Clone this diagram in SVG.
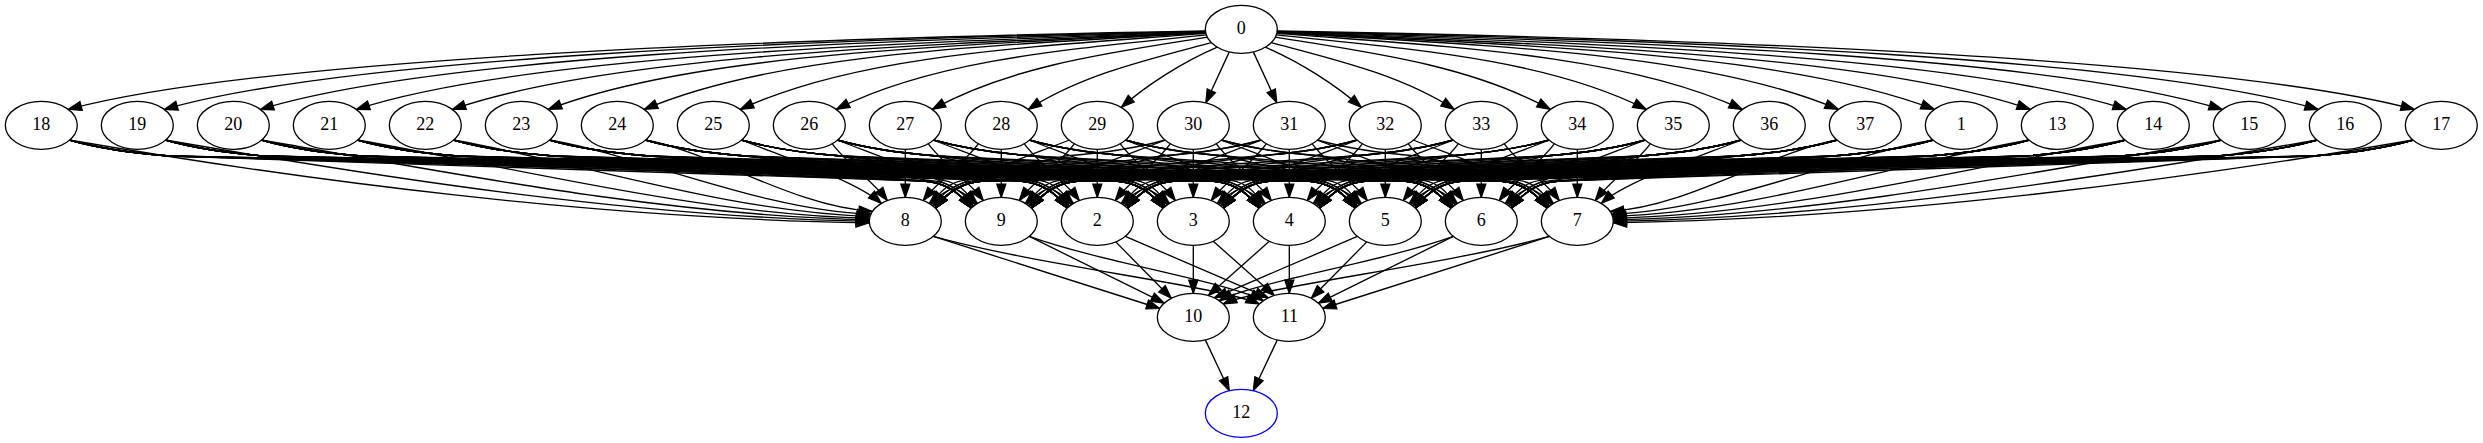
<svg xmlns="http://www.w3.org/2000/svg" width="2483" height="443" viewBox="0 0 2483 443">
<defs>
<marker id="ah" markerUnits="userSpaceOnUse" viewBox="-1 -6 16 12" refX="13.3" refY="0" markerWidth="16" markerHeight="12" orient="auto" overflow="visible">
<path d="M0,-4.6 L13.3,0 L0,4.6 Z" fill="#000" stroke="#000" stroke-width="1.2"/>
</marker>
</defs>
<style>
.e path{fill:none;stroke:#000;stroke-width:1.33;marker-end:url(#ah)}
.n ellipse{fill:#fff;stroke:#000;stroke-width:1.33}
.n text{font-family:"Liberation Serif","Times New Roman",serif;font-size:18px;text-anchor:middle;fill:#000}
</style>
<rect width="2483" height="443" fill="#fff"/>
<g id="edges" class="e">
<g id="edges-half">
<path d="M1205.5,31 C750.7,38.9 255,59.4 68.3,109.4"/>
<path d="M1205.5,31.3 C789.1,40 344.4,57.8 164.3,109.4"/>
<path d="M1205.5,31.6 C827.5,41.5 432.1,56.9 260.3,109.4"/>
<path d="M1205.5,31.9 C866,43.8 517.8,56.9 356.3,109.4"/>
<path d="M1205.5,32.2 C912.1,45 609,55.4 452.3,109.4"/>
<path d="M1205.5,32.5 C949.5,45.9 695.5,52.9 548.3,109.4"/>
<path d="M1205.5,32.8 C992.6,45.8 778.6,52.4 644.3,109.4"/>
<path d="M1205.5,33.3 C1033.9,46.8 858.4,54.3 740.3,109.4"/>
<path d="M1206.3,34.9 C1073.8,48.8 935.2,59 836.3,109.4"/>
<path d="M1207.3,37.2 C1112.2,52.3 1011.7,65.4 932.3,109.4"/>
<path d="M1211.3,42.6 C1149.4,59.2 1082.1,74.5 1028.3,109.4"/>
<path d="M1217.3,47.2 C1182.3,62.2 1146.3,85.4 1121.3,107.4"/>
<path d="M1229.3,51.9 L1205.8,102.8"/>

<path d="M69.3,140 C301.3,180 597.3,218.8 869.3,222.8"/>
<path d="M69.3,140 c25,7 60,13 100,16 l754,25 c20,1 36,11 48,27"/>
<path d="M69.3,140 c25,7 60,13 100,16 l850,25 c20,1 36,11 48,27"/>
<path d="M69.3,140 c25,7 60,13 100,16 l946,25 c20,1 36,11 48,27"/>
<path d="M69.3,140 c25,7 60,13 100,16 l1042,25 c20,1 36,11 48,27"/>
<path d="M69.3,140 c25,7 60,13 100,16 l1138,25 c20,1 36,11 48,27"/>
<path d="M69.3,140 c25,7 60,13 100,16 l1234,25 c20,1 36,11 48,27"/>
<path d="M69.3,140 c25,7 60,13 100,16 l1330,25 c20,1 36,11 48,27"/>

<path d="M165.3,140 C369.5,175.2 629.9,217.3 869.3,221.3"/>
<path d="M165.3,140 c25,7 60,13 100,16 l658,25 c20,1 36,11 48,27"/>
<path d="M165.3,140 c25,7 60,13 100,16 l754,25 c20,1 36,11 48,27"/>
<path d="M165.3,140 c25,7 60,13 100,16 l850,25 c20,1 36,11 48,27"/>
<path d="M165.3,140 c25,7 60,13 100,16 l946,25 c20,1 36,11 48,27"/>
<path d="M165.3,140 c25,7 60,13 100,16 l1042,25 c20,1 36,11 48,27"/>
<path d="M165.3,140 c25,7 60,13 100,16 l1138,25 c20,1 36,11 48,27"/>
<path d="M165.3,140 c25,7 60,13 100,16 l1234,25 c20,1 36,11 48,27"/>

<path d="M261.3,140 C437.6,170.4 662.7,215.8 869.4,219.8"/>
<path d="M261.3,140 c25,7 60,13 100,16 l562,25 c20,1 36,11 48,27"/>
<path d="M261.3,140 c25,7 60,13 100,16 l658,25 c20,1 36,11 48,27"/>
<path d="M261.3,140 c25,7 60,13 100,16 l754,25 c20,1 36,11 48,27"/>
<path d="M261.3,140 c25,7 60,13 100,16 l850,25 c20,1 36,11 48,27"/>
<path d="M261.3,140 c25,7 60,13 100,16 l946,25 c20,1 36,11 48,27"/>
<path d="M261.3,140 c25,7 60,13 100,16 l1042,25 c20,1 36,11 48,27"/>
<path d="M261.3,140 c25,7 60,13 100,16 l1138,25 c20,1 36,11 48,27"/>

<path d="M357.3,140 C505.8,165.6 695.5,214.3 869.6,218.3"/>
<path d="M357.3,140 c25,7 60,13 100,16 l466,25 c20,1 36,11 48,27"/>
<path d="M357.3,140 c25,7 60,13 100,16 l562,25 c20,1 36,11 48,27"/>
<path d="M357.3,140 c25,7 60,13 100,16 l658,25 c20,1 36,11 48,27"/>
<path d="M357.3,140 c25,7 60,13 100,16 l754,25 c20,1 36,11 48,27"/>
<path d="M357.3,140 c25,7 60,13 100,16 l850,25 c20,1 36,11 48,27"/>
<path d="M357.3,140 c25,7 60,13 100,16 l946,25 c20,1 36,11 48,27"/>
<path d="M357.3,140 c25,7 60,13 100,16 l1042,25 c20,1 36,11 48,27"/>

<path d="M453.3,140 C574.2,160.9 728.2,212.3 870,216.3"/>
<path d="M453.3,140 c25,7 60,13 100,16 l370,25 c20,1 36,11 48,27"/>
<path d="M453.3,140 c25,7 60,13 100,16 l466,25 c20,1 36,11 48,27"/>
<path d="M453.3,140 c25,7 60,13 100,16 l562,25 c20,1 36,11 48,27"/>
<path d="M453.3,140 c25,7 60,13 100,16 l658,25 c20,1 36,11 48,27"/>
<path d="M453.3,140 c25,7 60,13 100,16 l754,25 c20,1 36,11 48,27"/>
<path d="M453.3,140 c25,7 60,13 100,16 l850,25 c20,1 36,11 48,27"/>
<path d="M453.3,140 c25,7 60,13 100,16 l946,25 c20,1 36,11 48,27"/>

<path d="M549.3,140 C642.5,156.1 761.5,210.3 870.8,214.3"/>
<path d="M549.3,140 c25,7 60,13 100,16 l274,25 c20,1 36,11 48,27"/>
<path d="M549.3,140 c25,7 60,13 100,16 l370,25 c20,1 36,11 48,27"/>
<path d="M549.3,140 c25,7 60,13 100,16 l466,25 c20,1 36,11 48,27"/>
<path d="M549.3,140 c25,7 60,13 100,16 l562,25 c20,1 36,11 48,27"/>
<path d="M549.3,140 c25,7 60,13 100,16 l658,25 c20,1 36,11 48,27"/>
<path d="M549.3,140 c25,7 60,13 100,16 l754,25 c20,1 36,11 48,27"/>
<path d="M549.3,140 c25,7 60,13 100,16 l850,25 c20,1 36,11 48,27"/>

<path d="M645.3,140 C711.1,151.4 795.1,207.3 872.3,211.3"/>
<path d="M645.3,140 c25,7 60,13 100,16 l190,25.2 c15,2 28,11 38,25"/>
<path d="M645.3,140 c25,7 60,13 100,16 l274,25 c20,1 36,11 48,27"/>
<path d="M645.3,140 c25,7 60,13 100,16 l370,25 c20,1 36,11 48,27"/>
<path d="M645.3,140 c25,7 60,13 100,16 l466,25 c20,1 36,11 48,27"/>
<path d="M645.3,140 c25,7 60,13 100,16 l562,25 c20,1 36,11 48,27"/>
<path d="M645.3,140 c25,7 60,13 100,16 l658,25 c20,1 36,11 48,27"/>
<path d="M645.3,140 c25,7 60,13 100,16 l754,25 c20,1 36,11 48,27"/>

<path d="M741.3,140 c40,16 115,41 140,63.4"/>
<path d="M741.3,140 c25,7 60,13 100,16 l103,24.7 c12,2 23,11 31,24"/>
<path d="M741.3,140 c25,7 60,13 100,16 l190,25.2 c15,2 28,11 38,25"/>
<path d="M741.3,140 c25,7 60,13 100,16 l274,25 c20,1 36,11 48,27"/>
<path d="M741.3,140 c25,7 60,13 100,16 l370,25 c20,1 36,11 48,27"/>
<path d="M741.3,140 c25,7 60,13 100,16 l466,25 c20,1 36,11 48,27"/>
<path d="M741.3,140 c25,7 60,13 100,16 l562,25 c20,1 36,11 48,27"/>
<path d="M741.3,140 c25,7 60,13 100,16 l658,25 c20,1 36,11 48,27"/>

<path d="M832.3,143.8 c15,20 40,37 55,56.7"/>
<path d="M837.3,140 c40,16 115,41 140,63.4"/>
<path d="M837.3,140 c25,7 60,13 100,16 l103,24.7 c12,2 23,11 31,24"/>
<path d="M837.3,140 c25,7 60,13 100,16 l190,25.2 c15,2 28,11 38,25"/>
<path d="M837.3,140 c25,7 60,13 100,16 l274,25 c20,1 36,11 48,27"/>
<path d="M837.3,140 c25,7 60,13 100,16 l370,25 c20,1 36,11 48,27"/>
<path d="M837.3,140 c25,7 60,13 100,16 l466,25 c20,1 36,11 48,27"/>
<path d="M837.3,140 c25,7 60,13 100,16 l562,25 c20,1 36,11 48,27"/>

<path d="M905.3,149.3 V197.3"/>
<path d="M928.3,143.8 c15,20 40,37 55,56.7"/>
<path d="M933.3,140 c40,16 115,41 140,63.4"/>
<path d="M933.3,140 c25,7 60,13 100,16 l103,24.7 c12,2 23,11 31,24"/>
<path d="M933.3,140 c25,7 60,13 100,16 l190,25.2 c15,2 28,11 38,25"/>
<path d="M933.3,140 c25,7 60,13 100,16 l274,25 c20,1 36,11 48,27"/>
<path d="M933.3,140 c25,7 60,13 100,16 l370,25 c20,1 36,11 48,27"/>
<path d="M933.3,140 c25,7 60,13 100,16 l466,25 c20,1 36,11 48,27"/>

<path d="M978.3,143.8 c-15,20 -40,37 -55,56.7"/>
<path d="M1001.3,149.3 V197.3"/>
<path d="M1024.3,143.8 c15,20 40,37 55,56.7"/>
<path d="M1029.3,140 c40,16 115,41 140,63.4"/>
<path d="M1029.3,140 c25,7 60,13 100,16 l103,24.7 c12,2 23,11 31,24"/>
<path d="M1029.3,140 c25,7 60,13 100,16 l190,25.2 c15,2 28,11 38,25"/>
<path d="M1029.3,140 c25,7 60,13 100,16 l274,25 c20,1 36,11 48,27"/>
<path d="M1029.3,140 c25,7 60,13 100,16 l370,25 c20,1 36,11 48,27"/>

<path d="M1069.3,140 c-40,16 -115,41 -140,63.4"/>
<path d="M1074.3,143.8 c-15,20 -40,37 -55,56.7"/>
<path d="M1097.3,149.3 V197.3"/>
<path d="M1120.3,143.8 c15,20 40,37 55,56.7"/>
<path d="M1125.3,140 c40,16 115,41 140,63.4"/>
<path d="M1125.3,140 c25,7 60,13 100,16 l103,24.7 c12,2 23,11 31,24"/>
<path d="M1125.3,140 c25,7 60,13 100,16 l190,25.2 c15,2 28,11 38,25"/>
<path d="M1125.3,140 c25,7 60,13 100,16 l274,25 c20,1 36,11 48,27"/>

<path d="M1165.3,140 c-25,7 -60,13 -100,16 l-103,24.7 c-12,2 -23,11 -31,24"/>
<path d="M1165.3,140 c-40,16 -115,41 -140,63.4"/>
<path d="M1170.3,143.8 c-15,20 -40,37 -55,56.7"/>
<path d="M1193.3,149.3 V197.3"/>
<path d="M1216.3,143.8 c15,20 40,37 55,56.7"/>
<path d="M1221.3,140 c40,16 115,41 140,63.4"/>
<path d="M1221.3,140 c25,7 60,13 100,16 l103,24.7 c12,2 23,11 31,24"/>
<path d="M1221.3,140 c25,7 60,13 100,16 l190,25.2 c15,2 28,11 38,25"/>

<path d="M933.3,236.4 L1159.8,308.5"/>
<path d="M933.3,236.4 C1040,266 1220,286 1259.3,304"/>
<path d="M1029.3,236.4 L1164.3,303.1"/>
<path d="M1029.3,236.4 C1100,262 1232,283 1263.3,300.7"/>
<path d="M1115.8,241.9 L1171.3,298.3"/>
<path d="M1125.3,236.4 L1268.3,297.8"/>
<path d="M1193.3,245.3 V293.3"/>
<path d="M1213.3,241.3 L1274.3,295.5"/>
<path d="M1205.3,339.9 L1229.3,390.7"/>
</g>
<use href="#edges-half" transform="matrix(-1 0 0 1 2482.6 0)"/>
</g>
<g id="nodes">
<g id="node-0" class="n"><ellipse cx="1241.3" cy="29.3" rx="36" ry="24"/><text x="1241.3" y="34.3">0</text></g>
<g id="node-18" class="n"><ellipse cx="41.3" cy="125.3" rx="36" ry="24"/><text x="41.3" y="130.3">18</text></g>
<g id="node-19" class="n"><ellipse cx="137.3" cy="125.3" rx="36" ry="24"/><text x="137.3" y="130.3">19</text></g>
<g id="node-20" class="n"><ellipse cx="233.3" cy="125.3" rx="36" ry="24"/><text x="233.3" y="130.3">20</text></g>
<g id="node-21" class="n"><ellipse cx="329.3" cy="125.3" rx="36" ry="24"/><text x="329.3" y="130.3">21</text></g>
<g id="node-22" class="n"><ellipse cx="425.3" cy="125.3" rx="36" ry="24"/><text x="425.3" y="130.3">22</text></g>
<g id="node-23" class="n"><ellipse cx="521.3" cy="125.3" rx="36" ry="24"/><text x="521.3" y="130.3">23</text></g>
<g id="node-24" class="n"><ellipse cx="617.3" cy="125.3" rx="36" ry="24"/><text x="617.3" y="130.3">24</text></g>
<g id="node-25" class="n"><ellipse cx="713.3" cy="125.3" rx="36" ry="24"/><text x="713.3" y="130.3">25</text></g>
<g id="node-26" class="n"><ellipse cx="809.3" cy="125.3" rx="36" ry="24"/><text x="809.3" y="130.3">26</text></g>
<g id="node-27" class="n"><ellipse cx="905.3" cy="125.3" rx="36" ry="24"/><text x="905.3" y="130.3">27</text></g>
<g id="node-28" class="n"><ellipse cx="1001.3" cy="125.3" rx="36" ry="24"/><text x="1001.3" y="130.3">28</text></g>
<g id="node-29" class="n"><ellipse cx="1097.3" cy="125.3" rx="36" ry="24"/><text x="1097.3" y="130.3">29</text></g>
<g id="node-30" class="n"><ellipse cx="1193.3" cy="125.3" rx="36" ry="24"/><text x="1193.3" y="130.3">30</text></g>
<g id="node-31" class="n"><ellipse cx="1289.3" cy="125.3" rx="36" ry="24"/><text x="1289.3" y="130.3">31</text></g>
<g id="node-32" class="n"><ellipse cx="1385.3" cy="125.3" rx="36" ry="24"/><text x="1385.3" y="130.3">32</text></g>
<g id="node-33" class="n"><ellipse cx="1481.3" cy="125.3" rx="36" ry="24"/><text x="1481.3" y="130.3">33</text></g>
<g id="node-34" class="n"><ellipse cx="1577.3" cy="125.3" rx="36" ry="24"/><text x="1577.3" y="130.3">34</text></g>
<g id="node-35" class="n"><ellipse cx="1673.3" cy="125.3" rx="36" ry="24"/><text x="1673.3" y="130.3">35</text></g>
<g id="node-36" class="n"><ellipse cx="1769.3" cy="125.3" rx="36" ry="24"/><text x="1769.3" y="130.3">36</text></g>
<g id="node-37" class="n"><ellipse cx="1865.3" cy="125.3" rx="36" ry="24"/><text x="1865.3" y="130.3">37</text></g>
<g id="node-1" class="n"><ellipse cx="1961.3" cy="125.3" rx="36" ry="24"/><text x="1961.3" y="130.3">1</text></g>
<g id="node-13" class="n"><ellipse cx="2057.3" cy="125.3" rx="36" ry="24"/><text x="2057.3" y="130.3">13</text></g>
<g id="node-14" class="n"><ellipse cx="2153.3" cy="125.3" rx="36" ry="24"/><text x="2153.3" y="130.3">14</text></g>
<g id="node-15" class="n"><ellipse cx="2249.3" cy="125.3" rx="36" ry="24"/><text x="2249.3" y="130.3">15</text></g>
<g id="node-16" class="n"><ellipse cx="2345.3" cy="125.3" rx="36" ry="24"/><text x="2345.3" y="130.3">16</text></g>
<g id="node-17" class="n"><ellipse cx="2441.3" cy="125.3" rx="36" ry="24"/><text x="2441.3" y="130.3">17</text></g>
<g id="node-8" class="n"><ellipse cx="905.3" cy="221.3" rx="36" ry="24"/><text x="905.3" y="226.3">8</text></g>
<g id="node-9" class="n"><ellipse cx="1001.3" cy="221.3" rx="36" ry="24"/><text x="1001.3" y="226.3">9</text></g>
<g id="node-2" class="n"><ellipse cx="1097.3" cy="221.3" rx="36" ry="24"/><text x="1097.3" y="226.3">2</text></g>
<g id="node-3" class="n"><ellipse cx="1193.3" cy="221.3" rx="36" ry="24"/><text x="1193.3" y="226.3">3</text></g>
<g id="node-4" class="n"><ellipse cx="1289.3" cy="221.3" rx="36" ry="24"/><text x="1289.3" y="226.3">4</text></g>
<g id="node-5" class="n"><ellipse cx="1385.3" cy="221.3" rx="36" ry="24"/><text x="1385.3" y="226.3">5</text></g>
<g id="node-6" class="n"><ellipse cx="1481.3" cy="221.3" rx="36" ry="24"/><text x="1481.3" y="226.3">6</text></g>
<g id="node-7" class="n"><ellipse cx="1577.3" cy="221.3" rx="36" ry="24"/><text x="1577.3" y="226.3">7</text></g>
<g id="node-10" class="n"><ellipse cx="1193.3" cy="317.3" rx="36" ry="24"/><text x="1193.3" y="322.3">10</text></g>
<g id="node-11" class="n"><ellipse cx="1289.3" cy="317.3" rx="36" ry="24"/><text x="1289.3" y="322.3">11</text></g>
<g id="node-12" class="n"><ellipse cx="1241.3" cy="413.3" rx="36" ry="24" style="stroke:#00f"/><text x="1241.3" y="418.3">12</text></g>
</g>
</svg>
